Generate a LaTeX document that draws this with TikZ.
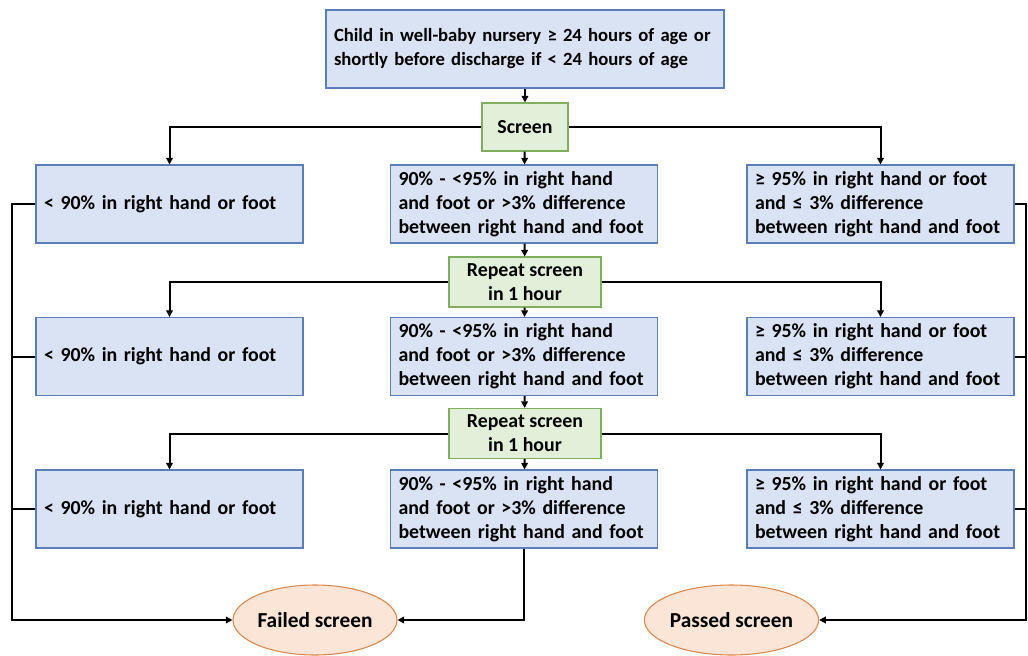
\documentclass[tikz,border=0pt]{standalone}
\usepackage{fontspec}
\setmainfont{Carlito}
\usetikzlibrary{arrows.meta,shapes.geometric}
\definecolor{bfill}{HTML}{DAE3F3}
\definecolor{bdraw}{HTML}{5B7DB8}
\definecolor{gfill}{HTML}{E2F0D9}
\definecolor{gdraw}{HTML}{7FAF5E}
\definecolor{ofill}{HTML}{FBE5D6}
\definecolor{odraw}{HTML}{D9874A}
\tikzset{
  every node/.style={font=\fontsize{14.9}{18}\selectfont\bfseries},
  bluebox/.style={draw=bdraw, fill=bfill, line width=0.8pt, minimum height=78*0.75pt, text width=251*0.75pt, align=left, inner xsep=8*0.75pt, inner ysep=0pt},
  greenbox/.style={draw=gdraw, fill=gfill, line width=0.8pt, minimum height=50*0.75pt, align=center, inner sep=0pt},
  ovalbox/.style={ellipse, draw=odraw, fill=ofill, line width=0.8pt, minimum width=164*0.75pt, minimum height=70*0.75pt, inner sep=0pt, font=\fontsize{16}{19}\selectfont\bfseries},
  conn/.style={line width=1.5pt, draw=black},
  arr/.style={conn, -{Triangle[length=5pt,width=5pt]}},
}
\begin{document}
\begin{tikzpicture}[x=0.75pt,y=-0.75pt]
\useasboundingbox (0,0) rectangle (1028,656);
\node[bluebox, text width=382*0.75pt, font=\fontsize{14}{18}\selectfont\bfseries] (top) at (525,49) {Child in well-baby nursery ≥ 24 hours of age or\\shortly before discharge if < 24 hours of age};
\node[greenbox, minimum width=86*0.75pt, minimum height=48*0.75pt] (scr) at (525,127) {Screen};

\node[bluebox] (L1) at (169.5,204) {< 90\% in right hand or foot};
\node[bluebox] (M1) at (524,204) {90\% - <95\% in right hand\\and foot or >3\% difference\\between right hand and foot};
\node[bluebox] (R1) at (880.5,204) {≥ 95\% in right hand or foot\\and ≤ 3\% difference\\between right hand and foot};

\node[greenbox, minimum width=152*0.75pt] (rep1) at (525,282) {Repeat screen\\in 1 hour};

\node[bluebox] (L2) at (169.5,356.5) {< 90\% in right hand or foot};
\node[bluebox] (M2) at (524,356.5) {90\% - <95\% in right hand\\and foot or >3\% difference\\between right hand and foot};
\node[bluebox] (R2) at (880.5,356.5) {≥ 95\% in right hand or foot\\and ≤ 3\% difference\\between right hand and foot};

\node[greenbox, minimum width=152*0.75pt] (rep2) at (525,433.5) {Repeat screen\\in 1 hour};

\node[bluebox] (L3) at (169.5,509) {< 90\% in right hand or foot};
\node[bluebox] (M3) at (524,509) {90\% - <95\% in right hand\\and foot or >3\% difference\\between right hand and foot};
\node[bluebox] (R3) at (880.5,509) {≥ 95\% in right hand or foot\\and ≤ 3\% difference\\between right hand and foot};

\node[ovalbox] (fail) at (315,620) {Failed screen};
\node[ovalbox] (pass) at (731.5,620) {Passed screen};

\coordinate (ltop) at (12,204);
\coordinate (rtop) at (1026,204);

% top to screen
\draw[arr] (top) -- (scr);
\draw[arr] (scr.west) -| (L1.north);
\draw[arr] (scr.east) -| (R1.north);
\draw[arr] (scr) -- (M1);
% repeat 1
\draw[arr] (M1) -- (rep1);
\draw[arr] (rep1.west) -| (L2.north);
\draw[arr] (rep1.east) -| (R2.north);
\draw[arr] (rep1) -- (M2);
% repeat 2
\draw[arr] (M2) -- (rep2);
\draw[arr] (rep2.west) -| (L3.north);
\draw[arr] (rep2.east) -| (R3.north);
\draw[arr] (rep2) -- (M3);
% to failed
\draw[arr] (L1.west) -- (ltop) |- (fail.west);
\draw[conn] (L2.west) -- (L2.west -| ltop);
\draw[conn] (L3.west) -- (L3.west -| ltop);
\draw[arr] (M3.south) |- (fail.east);
% to passed
\draw[arr] (R1.east) -- (rtop) |- (pass.east);
\draw[conn] (R2.east) -- (R2.east -| rtop);
\draw[conn] (R3.east) -- (R3.east -| rtop);
\end{tikzpicture}
\end{document}
